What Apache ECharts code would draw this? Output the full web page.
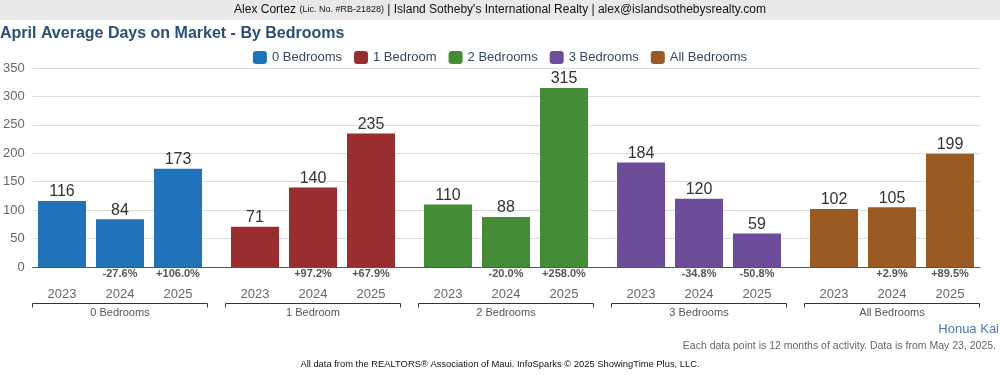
<!DOCTYPE html>
<html>
<head>
<meta charset="utf-8">
<script src="https://cdn.jsdelivr.net/npm/echarts@6/dist/echarts.min.js"></script>
<style>
  html, body { margin: 0; padding: 0; background: #fff; }
  #chart { width: 1000px; height: 375px; }
</style>
</head>
<body>
<div id="chart"></div>
<script>
var groups = ['0 Bedrooms', '1 Bedroom', '2 Bedrooms', '3 Bedrooms', 'All Bedrooms'];
var years = ['2023', '2024', '2025'];
var values2023 = [116, 71, 110, 184, 102];
var values2024 = [84, 140, 88, 120, 105];
var values2025 = [173, 235, 315, 59, 199];
var change2023 = ['', '', '', '', ''];
var change2024 = ['-27.6%', '+97.2%', '-20.0%', '-34.8%', '+2.9%'];
var change2025 = ['+106.0%', '+67.9%', '+258.0%', '-50.8%', '+89.5%'];
var yTicks = [0, 350, 50];

var groupColors = ['#1f73b9', '#9a2d2f', '#448c36', '#6d4c9a', '#995a24'];
var valuesByYear = [values2023, values2024, values2025];
var changesByYear = [change2023, change2024, change2025];
var font = 'Liberation Sans, Arial, sans-serif';

var chart = echarts.init(document.getElementById('chart'));

var series = [];
// the bars, one series per year, coloured by bedroom group
years.forEach(function (yr, i) {
    series.push({
        name: yr,
        type: 'bar',
        xAxisIndex: 1,
        yAxisIndex: 1,
        barWidth: 48,
        barGap: '20.8%',
        data: valuesByYear[i].map(function (v, g) {
            return { value: v, itemStyle: { color: groupColors[g] } };
        }),
        label: { show: true, position: 'top', distance: 1, fontSize: 16, color: '#333' }
    });
});
// invisible twin bars carrying the % change and year under each bar
years.forEach(function (yr, i) {
    series.push({
        name: yr + ' below',
        type: 'bar',
        xAxisIndex: 2,
        yAxisIndex: 1,
        barWidth: 48,
        barGap: '20.8%',
        silent: true,
        itemStyle: { color: 'rgba(0,0,0,0)' },
        data: valuesByYear[i],
        label: {
            show: true,
            position: 'bottom',
            distance: 0,
            formatter: function (p) {
                var c = changesByYear[i][p.dataIndex] || ' ';
                return '{p|' + c + '}\n{y|' + yr + '}';
            },
            rich: {
                p: { fontSize: 11, fontWeight: 'bold', color: '#555', lineHeight: 14 },
                y: { fontSize: 13, color: '#666', lineHeight: 26 }
            }
        }
    });
});
// brackets under each group
series.push({
    type: 'custom',
    xAxisIndex: 1,
    yAxisIndex: 1,
    silent: true,
    clip: false,
    data: groups.map(function (g, i) { return [i]; }),
    encode: { x: 0 },
    renderItem: function (params, api) {
        var c = api.coord([api.value(0), 0]);
        var half = api.size([1, 0])[0] / 2 - 8.5;
        var x0 = Math.round(c[0] - half) + 0.5, x1 = Math.round(c[0] + half) - 0.5;
        var y = Math.round(c[1]) + 36.5;
        return {
            type: 'polyline',
            shape: { points: [[x0, y + 4], [x0, y], [x1, y], [x1, y + 4]] },
            style: { stroke: '#333', fill: null, lineWidth: 1 }
        };
    }
});
// legend-only series
groups.forEach(function (g, i) {
    series.push({ name: g, type: 'line', xAxisIndex: 1, yAxisIndex: 1, data: [], itemStyle: { color: groupColors[i] } });
});

var option = {
    animation: false,
    textStyle: { fontFamily: font },
    graphic: [{
        type: 'rect', left: 0, top: 0, z: -1,
        shape: { width: 1000, height: 20 },
        style: { fill: '#e9e9e9' }
    }],
    title: [
        {
            text: '{a|Alex Cortez }{b|(Lic. No. #RB-21828)}{a| | Island Sotheby\'s International Realty | alex@islandsothebysrealty.com}',
            left: 'center', top: 4, padding: 0,
            textStyle: {
                fontWeight: 'normal',
                rich: {
                    a: { fontSize: 12, fontWeight: 'normal', color: '#111', fontFamily: font },
                    b: { fontSize: 9, fontWeight: 'normal', color: '#111', fontFamily: font }
                }
            }
        },
        {
            text: 'April Average Days on Market - By Bedrooms',
            left: 0, top: 26, padding: 0,
            textStyle: { fontSize: 16, fontWeight: 'bold', color: '#2c4f77', fontFamily: font }
        },
        {
            text: 'Honua Kai',
            right: 1, top: 323, padding: 0,
            textStyle: { fontSize: 13, fontWeight: 'normal', color: '#4a78ad', fontFamily: font }
        },
        {
            text: 'Each data point is 12 months of activity. Data is from May 23, 2025.',
            right: 4, top: 341, padding: 0,
            textStyle: { fontSize: 10.5, fontWeight: 'normal', color: '#666', fontFamily: font }
        },
        {
            text: 'All data from the REALTORS\u00ae Association of Maui. InfoSparks \u00a9 2025 ShowingTime Plus, LLC.',
            left: 'center', top: 360, padding: 0,
            textStyle: { fontSize: 9.4, fontWeight: 'normal', color: '#111', fontFamily: font }
        }
    ],
    legend: {
        data: groups,
        top: 46,
        left: 'center',
        icon: 'roundRect',
        itemWidth: 14,
        itemHeight: 13,
        itemGap: 12,
        textStyle: { fontSize: 13, color: '#34495e' }
    },
    grid: [
        { left: 31, right: 20, top: 68, bottom: 108 },
        { left: 23.5, right: 11.5, top: 68, bottom: 108 }
    ],
    xAxis: [
        {
            type: 'category', gridIndex: 0, data: groups, offset: 14,
            axisLine: { show: true, lineStyle: { color: '#555' } },
            axisTick: { show: false }, axisLabel: { show: false }
        },
        {
            type: 'category', gridIndex: 1, data: groups,
            axisLine: { show: false }, axisTick: { show: false },
            axisLabel: { show: true, margin: 40, fontSize: 11, color: '#555' }
        },
        {
            type: 'category', gridIndex: 1, data: groups, show: false
        }
    ],
    yAxis: [
        {
            type: 'value', gridIndex: 0, min: yTicks[0], max: yTicks[1], interval: yTicks[2],
            axisLine: { show: false }, axisTick: { show: false },
            axisLabel: { margin: 8, fontSize: 13, color: '#666' },
            splitLine: { lineStyle: { color: '#dcdcdc' } }
        },
        {
            type: 'value', gridIndex: 1, min: yTicks[0], max: yTicks[1], interval: yTicks[2], show: false,
            splitLine: { show: false }
        }
    ],
    series: series
};

chart.setOption(option);
</script>
</body>
</html>
